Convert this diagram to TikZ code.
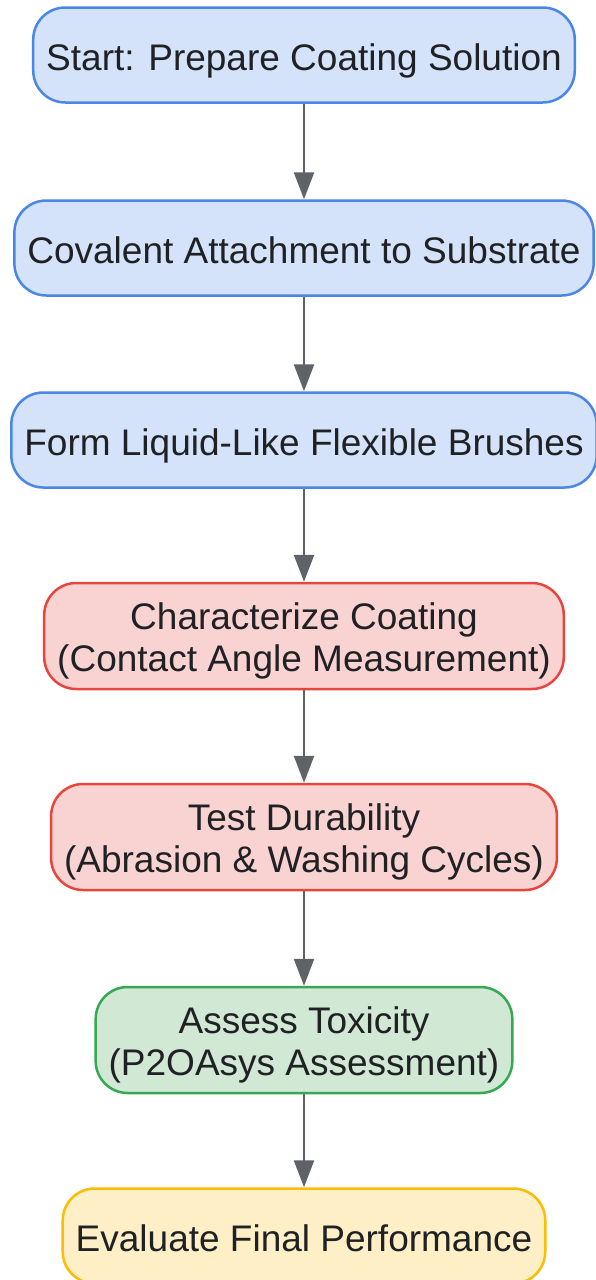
\documentclass[tikz,border=0pt]{standalone}
\usepackage{fontspec}
\setmainfont{Liberation Sans}
\usetikzlibrary{arrows.meta}

\definecolor{txt}{RGB}{32,33,36}
\definecolor{arr}{RGB}{95,99,104}
\definecolor{bluefill}{RGB}{212,227,250}
\definecolor{blueline}{RGB}{74,134,232}
\definecolor{redfill}{RGB}{249,211,209}
\definecolor{redline}{RGB}{230,70,60}
\definecolor{greenfill}{RGB}{208,232,212}
\definecolor{greenline}{RGB}{52,168,83}
\definecolor{yellowfill}{RGB}{254,239,198}
\definecolor{yellowline}{RGB}{251,188,4}

\begin{document}
\begin{tikzpicture}[x=1pt,y=1pt,
  box/.style={rounded corners=32pt, line width=2.5pt, align=center, text=txt,
    inner xsep=13pt, inner ysep=10pt, minimum height=95pt,
    text height=38pt, text depth=8pt,
    font=\fontsize{37}{42}\selectfont},
  twoline/.style={text height=78pt},
  bluebox/.style={box, fill=bluefill, draw=blueline},
  redbox/.style={box, twoline, fill=redfill, draw=redline},
  greenbox/.style={box, twoline, fill=greenfill, draw=greenline},
  yellowbox/.style={box, fill=yellowfill, draw=yellowline}]
  \useasboundingbox (0,0) rectangle (595,-1280);
  \node[bluebox] (prep) at (304,-55) {Start: Prepare Coating Solution};
  \node[bluebox] (attach) at (304,-248) {Covalent Attachment to Substrate};
  \node[bluebox] (brush) at (304,-440) {Form Liquid-Like Flexible Brushes};
  \node[redbox] (charac) at (304,-636) {Characterize Coating\\(Contact Angle Measurement)};
  \node[redbox] (durab) at (304,-837) {Test Durability\\(Abrasion \& Washing Cycles)};
  \node[greenbox] (toxic) at (304,-1040) {Assess Toxicity\\(P2OAsys Assessment)};
  \node[yellowbox] (final) at (304,-1236) {Evaluate Final Performance};
  \path[-{Triangle[length=27pt,width=20pt]}, draw=arr, fill=arr, line width=2.5pt]
  (prep) edge (attach)
  (attach) edge (brush)
  (brush) edge (charac)
  (charac) edge (durab)
  (durab) edge (toxic)
  (toxic) edge (final);
\end{tikzpicture}
\end{document}
